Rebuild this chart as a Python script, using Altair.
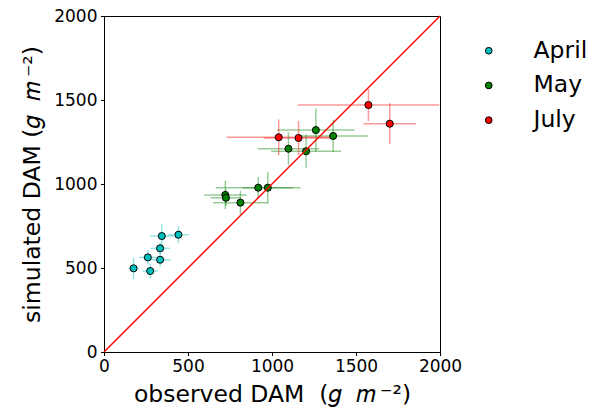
import altair as alt
import pandas as pd

# ---- data ----
month_order = ["April", "May", "July"]
month_colors = ["#00bfbf", "#008000", "#ff0000"]

month = ["April"] * 7 + ["May"] * 9 + ["July"] * 4
observed = [176, 275, 261, 334, 334, 344, 443,
            722, 726, 812, 918, 975, 1098, 1203, 1261, 1364,
            1040, 1158, 1574, 1701]
simulated = [498, 482, 563, 549, 617, 690, 698,
             935, 918, 889, 978, 978, 1210, 1195, 1321, 1286,
             1278, 1274, 1470, 1359]
obs_err = [30, 46, 52, 64, 58, 70, 62,
           127, 90, 163, 253, 150, 183, 208, 231, 210,
           310, 208, 421, 157]
sim_err = [64, 44, 44, 40, 34, 70, 50,
           84, 50, 69, 64, 94, 99, 99, 129, 97,
           106, 102, 95, 122]

diag_x = [0, 2000]
diag_y = [0, 2000]
ticks = [0, 500, 1000, 1500, 2000]

x_title = "observed DAM\u00a0\u00a0(𝑔\u00a0\u00a0𝑚\u2009⁻²)"
y_title = "simulated DAM\u00a0(𝑔\u00a0\u00a0𝑚\u2009⁻²)"

df = pd.DataFrame({
    "month": month,
    "bar_month": month,
    "obs": observed,
    "sim": simulated,
    "obs_lo": [o - e for o, e in zip(observed, obs_err)],
    "obs_hi": [o + e for o, e in zip(observed, obs_err)],
    "sim_lo": [s - e for s, e in zip(simulated, sim_err)],
    "sim_hi": [s + e for s, e in zip(simulated, sim_err)],
})
diag = pd.DataFrame({"x": diag_x, "y": diag_y})

xs = alt.Scale(domain=[0, 2000], nice=False, zero=False)
ys = alt.Scale(domain=[0, 2000], nice=False, zero=False)

x_axis = alt.Axis(values=ticks, format="d", title=x_title, grid=False,
                  labelFontSize=17, titleFontSize=23.5, titleFontWeight="normal",
                  tickSize=3.5, labelPadding=3, titlePadding=8,
                  domainColor="black", tickColor="black", labelColor="black",
                  titleColor="black", labelFlush=False)
y_axis = alt.Axis(values=ticks, format="d", title=y_title, grid=False,
                  labelFontSize=17, titleFontSize=23.5, titleFontWeight="normal",
                  tickSize=3.5, labelPadding=3.5, titlePadding=9,
                  domainColor="black", tickColor="black", labelColor="black",
                  titleColor="black", labelFlush=False)

# reversed domain order so this (hidden) legend is not merged with the point legend
stroke_enc = alt.Stroke("bar_month:N",
                        scale=alt.Scale(domain=month_order[::-1], range=month_colors[::-1]),
                        legend=None)

base = alt.Chart(df)

hbars = base.mark_rule(opacity=0.4, strokeWidth=1.5).encode(
    x=alt.X("obs_lo:Q", scale=xs, axis=x_axis),
    x2="obs_hi:Q",
    y=alt.Y("sim:Q", scale=ys, axis=y_axis),
    stroke=stroke_enc,
)
vbars = base.mark_rule(opacity=0.4, strokeWidth=1.5).encode(
    x=alt.X("obs:Q", scale=xs),
    y=alt.Y("sim_lo:Q", scale=ys),
    y2="sim_hi:Q",
    stroke=stroke_enc,
)
points = base.mark_circle(size=50, stroke="black", strokeWidth=1, opacity=1).encode(
    x=alt.X("obs:Q", scale=xs),
    y=alt.Y("sim:Q", scale=ys),
    fill=alt.Fill("month:N", scale=alt.Scale(domain=month_order, range=month_colors),
                  legend=alt.Legend(title=None, orient="none", legendX=373, legendY=23,
                                    labelFontSize=23.5, labelColor="black",
                                    symbolType="circle", symbolSize=45,
                                    symbolStrokeColor="black", symbolStrokeWidth=1,
                                    symbolOpacity=1,
                                    rowPadding=9.7, labelOffset=33, padding=0)),
)
line = alt.Chart(diag).mark_line(color="red", strokeWidth=1.5).encode(
    x=alt.X("x:Q", scale=xs),
    y=alt.Y("y:Q", scale=ys),
)

chart = alt.layer(hbars, vbars, points, line).properties(
    width=336, height=336,
    autosize=alt.AutoSizeParams(type="none"),
    padding={"left": 96, "top": 8, "right": 149, "bottom": 58},
).configure(font="DejaVu Sans").configure_view(stroke="black", strokeWidth=1)

chart.save("out.html", embed_options={"renderer": "svg", "actions": False})
